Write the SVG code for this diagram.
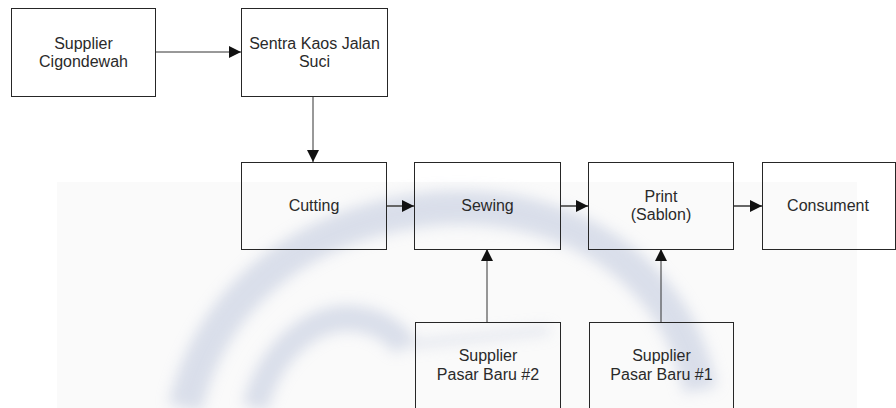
<svg xmlns="http://www.w3.org/2000/svg" width="896" height="408" viewBox="0 0 896 408">
<style>
.box{fill:none;stroke:#262626;stroke-width:1}
.t{font-family:"Liberation Sans",Arial,sans-serif;font-size:16px;fill:#2a2a2a;text-anchor:middle}
.c{stroke:#333;stroke-width:1;fill:none}
.cs{stroke:#666;stroke-width:2;fill:none}
</style>
<defs>
<marker id="ah" viewBox="0 0 10 10" refX="10" refY="5" markerWidth="12" markerHeight="12" markerUnits="userSpaceOnUse" orient="auto">
<path d="M0,0 L10,5 L0,10 z" fill="#111"/>
</marker>
<filter id="bl" x="-20%" y="-20%" width="140%" height="140%"><feGaussianBlur stdDeviation="7"/></filter>
</defs>
<rect width="896" height="408" fill="#fff"/>
<g id="watermark">
<rect x="57" y="182" width="800" height="226" fill="#fafafa"/>
<g filter="url(#bl)" opacity="0.5">
<path d="M185,408 C210,300 300,220 440,208 C580,200 680,280 700,390" stroke="#b9c3da" stroke-width="34" fill="none"/>
<path d="M255,408 C270,350 310,320 345,318 C380,318 395,335 405,345" stroke="#b9c3da" stroke-width="26" fill="none"/>
<path d="M405,345 C450,340 500,335 550,330" stroke="#c8cfe0" stroke-width="8" fill="none"/>
</g>
</g>
<g id="connectors">
<line class="c" x1="155" y1="52" x2="241" y2="52" marker-end="url(#ah)"/>
<line class="c" x1="313" y1="96" x2="313" y2="162" marker-end="url(#ah)"/>
<line class="cs" x1="386" y1="206" x2="414" y2="206" marker-end="url(#ah)"/>
<line class="cs" x1="560" y1="206" x2="588" y2="206" marker-end="url(#ah)"/>
<line class="cs" x1="734" y1="206" x2="762" y2="206" marker-end="url(#ah)"/>
<line class="c" x1="487" y1="322" x2="487" y2="249" marker-end="url(#ah)"/>
<line class="c" x1="661" y1="322" x2="661" y2="249" marker-end="url(#ah)"/>
</g>
<g id="supplier-cigondewah">
<rect class="box" x="11.5" y="8.5" width="144" height="88"/>
<text class="t" x="83.5" y="49">Supplier</text>
<text class="t" x="83.5" y="67">Cigondewah</text>
</g>
<g id="sentra-kaos">
<rect class="box" x="241.5" y="8.5" width="146" height="88"/>
<text class="t" x="314.5" y="49">Sentra Kaos Jalan</text>
<text class="t" x="314.5" y="67">Suci</text>
</g>
<g id="cutting">
<rect class="box" x="241.5" y="162.5" width="145" height="87"/>
<text class="t" x="314" y="211">Cutting</text>
</g>
<g id="sewing">
<rect class="box" x="414.5" y="162.5" width="146" height="87"/>
<text class="t" x="487.5" y="211">Sewing</text>
</g>
<g id="print">
<rect class="box" x="588.5" y="162.5" width="145" height="87"/>
<text class="t" x="661" y="202">Print</text>
<text class="t" x="661" y="220">(Sablon)</text>
</g>
<g id="consument">
<rect class="box" x="762.5" y="162.5" width="133" height="87"/>
<text class="t" x="828" y="211">Consument</text>
</g>
<g id="supplier-pb2">
<rect class="box" x="415.5" y="322.5" width="145" height="100"/>
<text class="t" x="488" y="361">Supplier</text>
<text class="t" x="488" y="380">Pasar Baru #2</text>
</g>
<g id="supplier-pb1">
<rect class="box" x="589.5" y="322.5" width="144" height="100"/>
<text class="t" x="661.5" y="361">Supplier</text>
<text class="t" x="661.5" y="380">Pasar Baru #1</text>
</g>
</svg>
